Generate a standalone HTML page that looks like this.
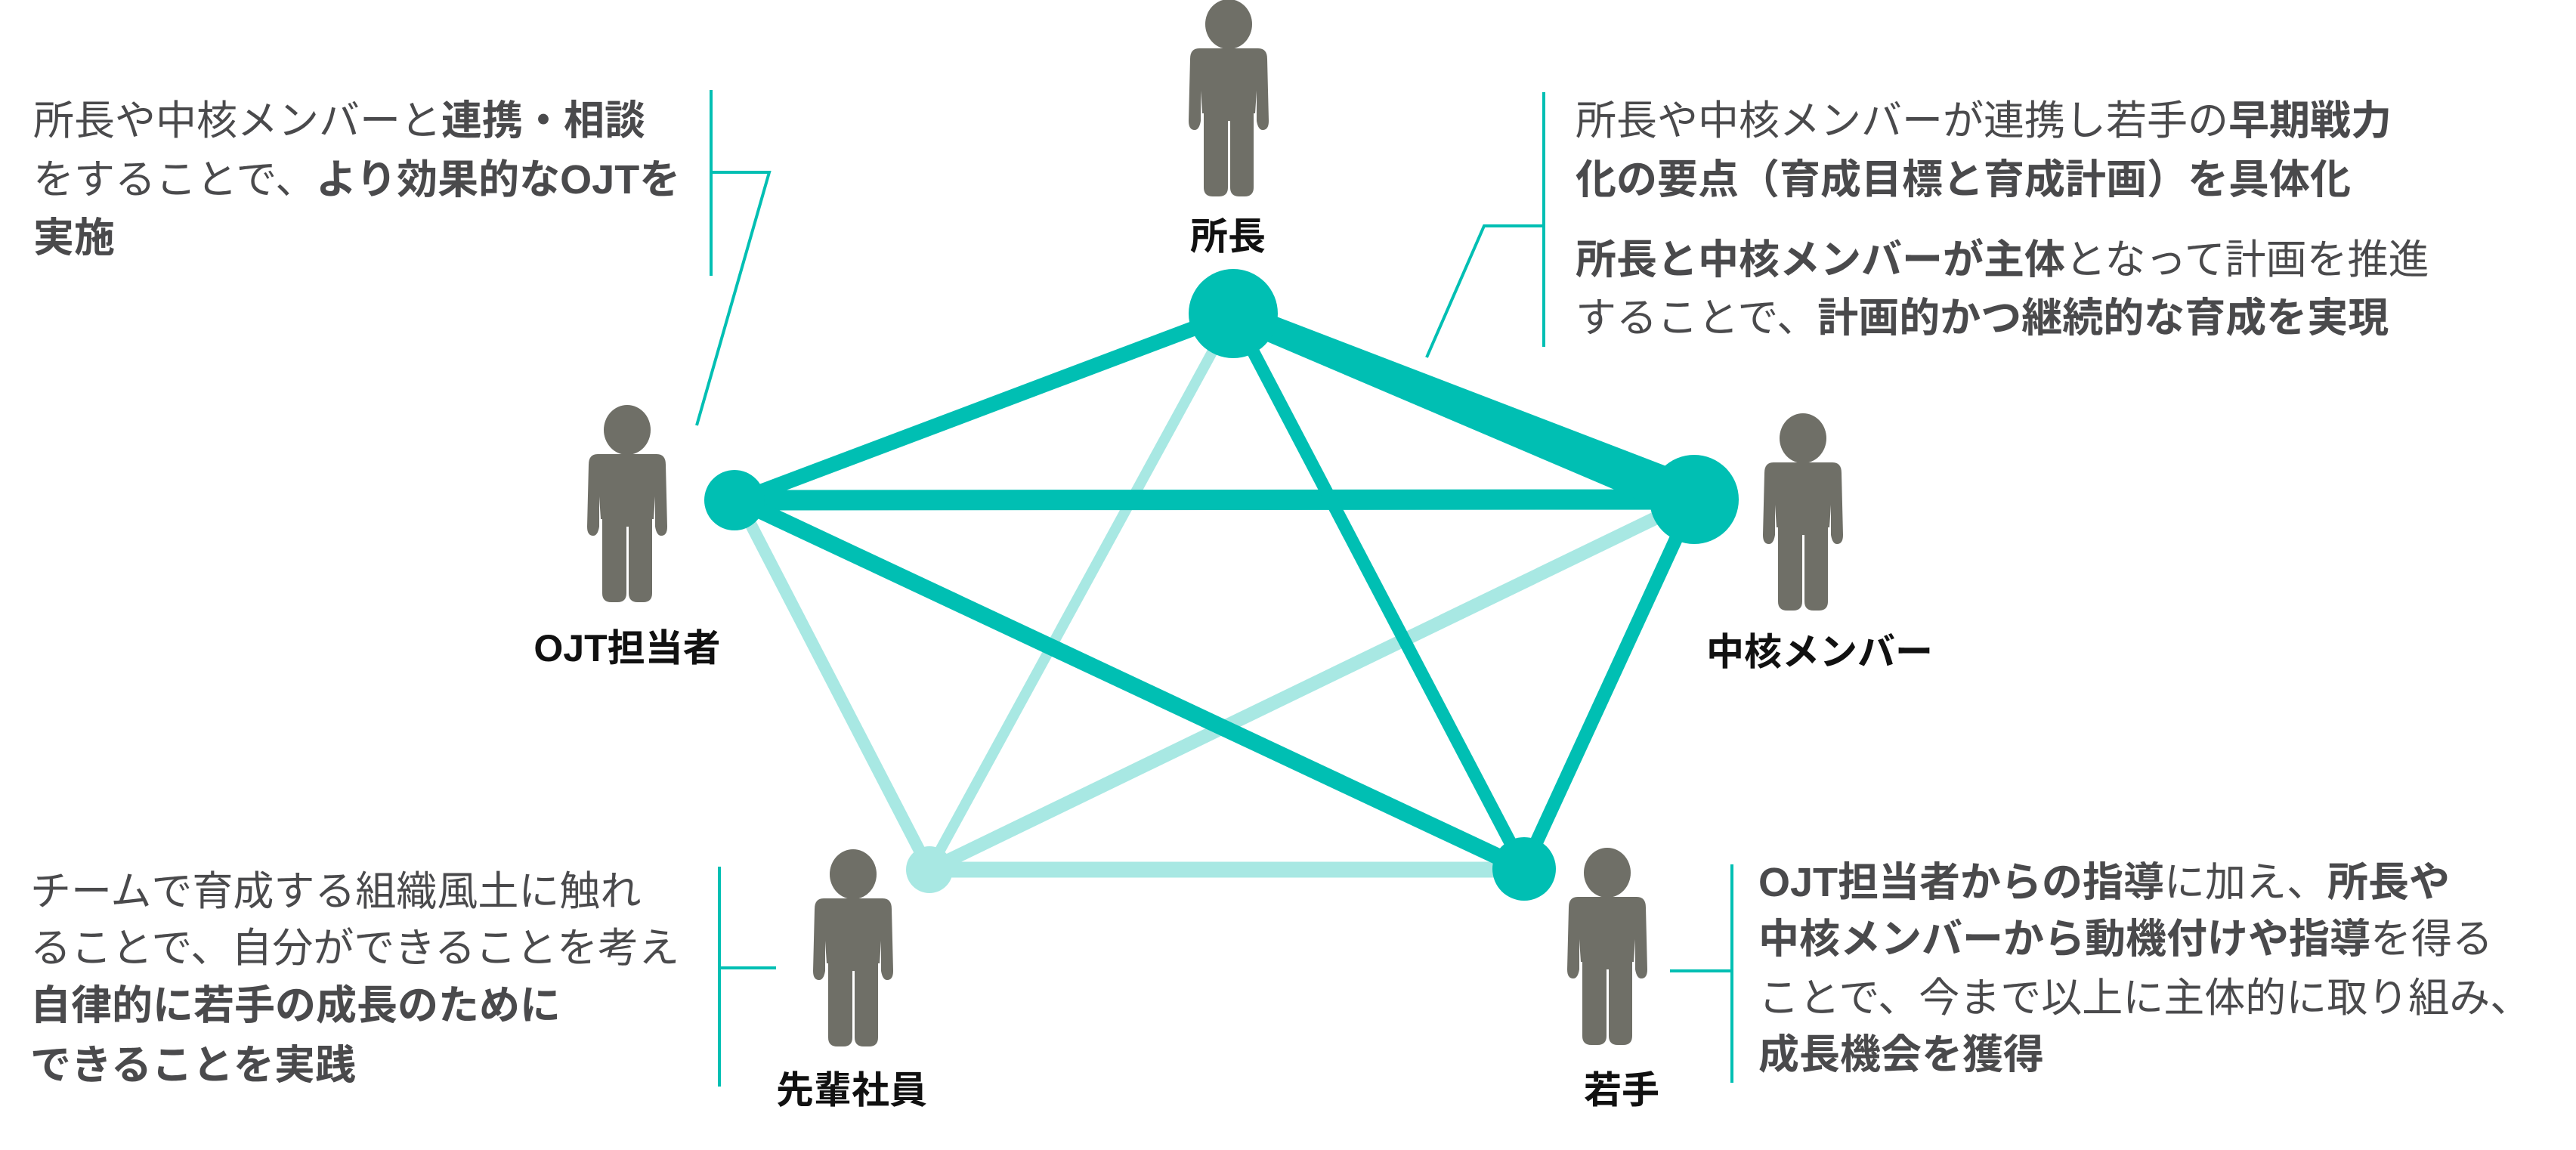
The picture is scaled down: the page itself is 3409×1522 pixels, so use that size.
<!DOCTYPE html>
<html><head><meta charset="utf-8">
<style>
html,body{margin:0;padding:0;background:#fff;}
body{width:3409px;height:1522px;position:relative;overflow:hidden;font-family:"Liberation Sans","Noto Sans CJK JP",sans-serif;}
.t{position:absolute;white-space:nowrap;font-size:54px;line-height:77px;color:#4a4a4c;letter-spacing:0px;}
.t b{font-weight:700;}
.lb{position:absolute;white-space:nowrap;font-size:50px;line-height:60px;font-weight:700;color:#111;transform:translateX(-50%);}
svg{position:absolute;left:0;top:0;}
</style></head><body>
<svg width="3409" height="1522" viewBox="0 0 3409 1522">
<defs>
<g id="p">
<ellipse cx="53" cy="32" rx="31" ry="33" fill="#6f6f67"/>
<path d="M14 64 H92 Q104 64 104 78 L106 160 Q106 172 98 172 Q92 172 90 160 L90 120 L88 150 H18 L16 120 L16 160 Q14 172 8 172 Q0 172 0 160 L2 78 Q2 64 14 64 Z" fill="#6f6f67"/>
<rect x="20" y="100" width="66" height="60" fill="#6f6f67"/>
<path d="M20 140 H52 V248 Q52 260 40 260 H32 Q20 260 20 248 Z" fill="#6f6f67"/>
<path d="M55 140 H86 V248 Q86 260 74 260 H67 Q55 260 55 248 Z" fill="#6f6f67"/>
</g>
</defs>
<g stroke="#00bfb3" stroke-width="4" fill="none">
<path d="M941 119 V365 M941 228 H1018 L922 563"/>
<path d="M2043 122 V459 M2043 299 H1964 L1888 473"/>
<path d="M952 1147 V1438 M952 1281 H1027"/>
<path d="M2292 1144 V1433 M2292 1285 H2210"/>
</g>
<g stroke="#a8e8e3" stroke-linecap="round">
<line x1="977" y1="662" x2="1230" y2="1151" stroke-width="16"/>
<line x1="1632" y1="415" x2="1230" y2="1151" stroke-width="14"/>
<line x1="2242" y1="661" x2="1230" y2="1151" stroke-width="18"/>
<line x1="1230" y1="1151" x2="2017" y2="1151" stroke-width="21"/>
</g>
<g stroke="#00bfb3">
<line x1="977" y1="662" x2="1632" y2="415" stroke-width="20"/>
<line x1="977" y1="662" x2="2242" y2="661" stroke-width="27"/>
<line x1="977" y1="662" x2="2017" y2="1150" stroke-width="22"/>
<line x1="1632" y1="415" x2="2017" y2="1150" stroke-width="17"/>
<line x1="2242" y1="661" x2="2017" y2="1150" stroke-width="18"/>
</g>
<polygon points="1640,400 1625,430 2235,690 2252,635" fill="#00bfb3"/>
<circle cx="1230" cy="1151" r="31" fill="#a8e8e3"/>
<circle cx="1632" cy="415" r="59" fill="#00bfb3"/>
<circle cx="972" cy="662" r="40" fill="#00bfb3"/>
<circle cx="2242" cy="661" r="59" fill="#00bfb3"/>
<circle cx="2017" cy="1150" r="42" fill="#00bfb3"/>
<use href="#p" x="1573" y="0"/>
<use href="#p" x="777" y="537"/>
<use href="#p" x="2333" y="548"/>
<use href="#p" x="1076" y="1125"/>
<use href="#p" x="2074" y="1123"/>
</svg>

<div class="lb" style="left:1625px;top:283px">所長</div>
<div class="lb" style="left:830px;top:828px">OJT担当者</div>
<div class="lb" style="left:2408px;top:833px">中核メンバー</div>
<div class="lb" style="left:1127px;top:1413px">先輩社員</div>
<div class="lb" style="left:2146px;top:1413px">若手</div>

<div class="t" style="left:44px;top:122px">所長や中核メンバーと<b>連携・相談</b></div>
<div class="t" style="left:44px;top:200px">をすることで、<b>より効果的なOJTを</b></div>
<div class="t" style="left:44px;top:277px"><b>実施</b></div>

<div class="t" style="left:2085px;top:122px">所長や中核メンバーが連携し若手の<b>早期戦力</b></div>
<div class="t" style="left:2085px;top:200px"><b>化の要点（育成目標と育成計画）を具体化</b></div>
<div class="t" style="left:2085px;top:306px"><b>所長と中核メンバーが主体</b>となって計画を推進</div>
<div class="t" style="left:2085px;top:383px">することで、<b>計画的かつ継続的な育成を実現</b></div>

<div class="t" style="left:40px;top:1142px">チームで育成する組織風土に触れ</div>
<div class="t" style="left:40px;top:1217px">ることで、自分ができることを考え</div>
<div class="t" style="left:40px;top:1293px"><b>自律的に若手の成長のために</b></div>
<div class="t" style="left:40px;top:1372px"><b>できることを実践</b></div>

<div class="t" style="left:2327px;top:1130px"><b>OJT担当者からの指導</b>に加え、<b>所長や</b></div>
<div class="t" style="left:2327px;top:1205px"><b>中核メンバーから動機付けや指導</b>を得る</div>
<div class="t" style="left:2327px;top:1283px">ことで、今まで以上に主体的に取り組み、</div>
<div class="t" style="left:2327px;top:1358px"><b>成長機会を獲得</b></div>
</body></html>
